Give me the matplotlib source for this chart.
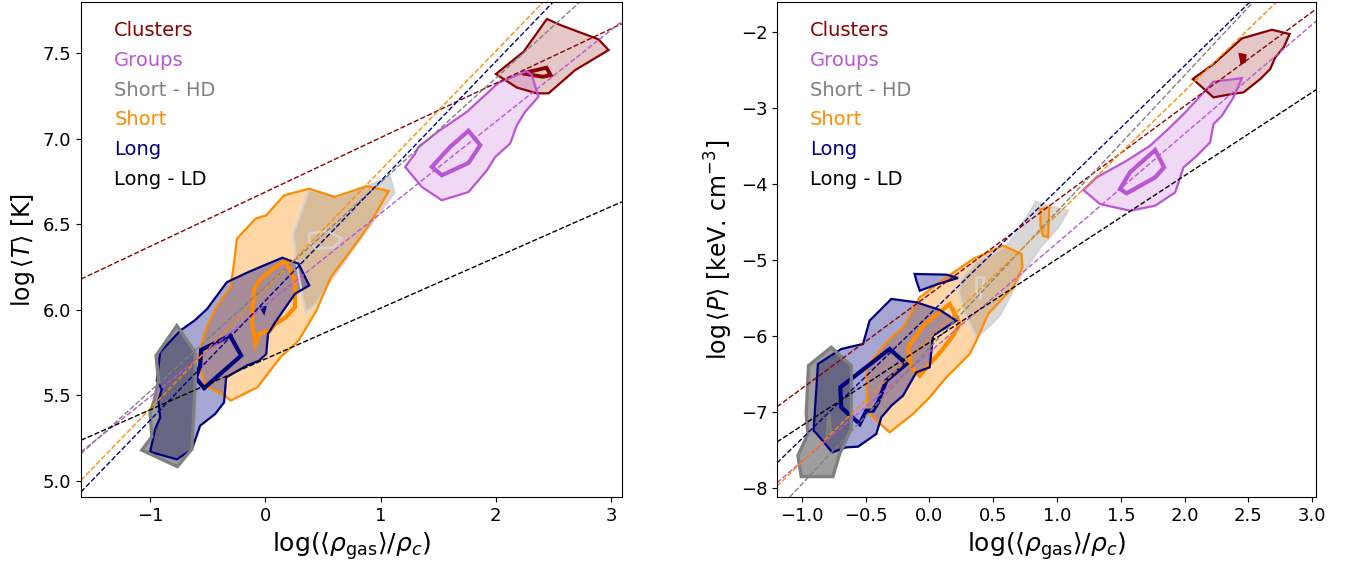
""" Temperature and pressure vs gas density contours for the six samples """

import matplotlib
matplotlib.use('Agg')
import matplotlib.pyplot as plt
from matplotlib.patches import Polygon
from matplotlib.lines import Line2D

labels = ['Clusters', 'Groups', 'Short - HD', 'Short', 'Long', 'Long - LD']
colors = ['darkred', 'mediumorchid', 'grey', 'darkorange', 'navy', 'black']

# fit lines log<T> = a + b*log(rho): (intercept, slope)
fit_T = [(6.689, 0.318), (6.028, 0.536), (6.135, 0.610),
         (6.119, 0.697), (6.054, 0.699), (5.713, 0.297)]
# fit lines log<P> = a + b*log(rho)
fit_P = [(-5.45, 1.240), (-6.213, 1.439), (-6.155, 1.795),
         (-6.031, 1.629), (-5.714, 1.638), (-6.083, 1.098)]

# ---- contours, left panel (log rho, log T)
T_clusters_out = [(2.001, 7.379), (2.241, 7.509), (2.444, 7.701), (2.559, 7.666),
                  (2.892, 7.582), (2.979, 7.519), (2.892, 7.484), (2.689, 7.402),
                  (2.458, 7.266), (2.357, 7.266), (2.183, 7.30)]
T_clusters_in = [(2.23, 7.383), (2.44, 7.416), (2.476, 7.373), (2.41, 7.363)]
T_groups_out = [(1.214, 6.836), (1.30, 6.914), (1.329, 6.953), (1.517, 7.051),
                (1.749, 7.158), (2.024, 7.328), (2.27, 7.396), (2.313, 7.373),
                (2.37, 7.246), (2.255, 7.158), (2.183, 7.08), (2.125, 6.973),
                (1.995, 6.894), (1.923, 6.816), (1.763, 6.689), (1.532, 6.641),
                (1.358, 6.719)]
T_groups_in = [(1.445, 6.836), (1.604, 6.953), (1.763, 7.047), (1.865, 6.963),
               (1.763, 6.859), (1.532, 6.787)]
T_shorthd_out = [(0.381, 6.703), (0.624, 6.66), (0.879, 6.723), (1.081, 6.777),
                 (1.121, 6.686), (0.941, 6.523), (0.692, 6.289), (0.568, 6.172),
                 (0.443, 6.035), (0.35, 5.986), (0.319, 6.094), (0.272, 6.27),
                 (0.241, 6.445)]
T_shorthd_in = [(0.381, 6.445), (0.537, 6.465), (0.661, 6.416), (0.599, 6.367),
                (0.443, 6.357), (0.381, 6.396)]
T_short_out = [(-0.537, 5.586), (-0.583, 5.723), (-0.521, 5.879), (-0.428, 6.016),
               (-0.303, 6.133), (-0.272, 6.27), (-0.247, 6.416), (-0.086, 6.533),
               (0.008, 6.553), (0.163, 6.67), (0.381, 6.709), (0.599, 6.66),
               (0.879, 6.723), (1.072, 6.695), (0.941, 6.543), (0.848, 6.445),
               (0.568, 6.191), (0.443, 5.996), (0.288, 5.82), (0.132, 5.723),
               (-0.07, 5.547), (-0.303, 5.469), (-0.35, 5.498), (-0.49, 5.547)]
T_short_in = [(-0.101, 6.113), (-0.054, 6.172), (0.086, 6.25), (0.179, 6.289),
              (0.257, 6.172), (0.257, 6.016), (0.179, 5.957), (0.086, 5.918),
              (0.039, 5.879), (-0.054, 5.859), (-0.086, 5.801), (-0.117, 5.938)]
T_long_out = [(-1.0, 5.17), (-0.768, 5.126), (-0.638, 5.184), (-0.566, 5.323),
              (-0.436, 5.391), (-0.358, 5.459), (-0.34, 5.605), (-0.163, 5.674),
              (-0.054, 5.703), (0.008, 5.742), (0.023, 5.859), (0.086, 5.928),
              (0.257, 6.094), (0.381, 6.143), (0.288, 6.27), (0.148, 6.305),
              (0.023, 6.27), (-0.148, 6.221), (-0.334, 6.162), (-0.505, 6.006),
              (-0.614, 5.938), (-0.739, 5.879), (-0.913, 5.752), (-0.942, 5.586),
              (-0.899, 5.537), (-0.928, 5.469), (-0.913, 5.371), (-0.957, 5.303)]
T_long_in = [(-0.557, 5.766), (-0.306, 5.85), (-0.21, 5.733), (-0.531, 5.543),
             (-0.603, 5.602), (-0.566, 5.674)]
T_long_in2 = [(-0.025, 6.01), (-0.01, 6.01), (-0.015, 5.998)]
T_longld_out = [(-0.768, 5.908), (-0.609, 5.752), (-0.609, 5.586), (-0.624, 5.352),
                (-0.638, 5.186), (-0.763, 5.084), (-1.072, 5.18), (-0.985, 5.258),
                (-1.0, 5.40), (-0.965, 5.469), (-0.928, 5.586), (-0.948, 5.733)]

# ---- contours, right panel (log rho, log P)
P_clusters_out = [(2.064, -2.614), (2.226, -2.417), (2.449, -2.079), (2.684, -1.965),
                  (2.823, -2.022), (2.776, -2.198), (2.71, -2.33), (2.671, -2.483),
                  (2.593, -2.614), (2.462, -2.79), (2.37, -2.812), (2.226, -2.856)]
P_clusters_in = [(2.44, -2.30), (2.47, -2.31), (2.465, -2.38), (2.45, -2.39)]
P_groups_out = [(1.206, -4.076), (1.311, -3.909), (1.546, -3.69), (1.729, -3.493),
                (1.886, -3.251), (2.017, -3.032), (2.226, -2.65), (2.449, -2.602),
                (2.383, -2.856), (2.292, -3.098), (2.226, -3.207), (2.2, -3.449),
                (2.083, -3.646), (1.991, -3.778), (1.952, -3.976), (1.926, -4.108),
                (1.769, -4.283), (1.572, -4.349), (1.337, -4.261)]
P_groups_in = [(1.494, -4.063), (1.572, -3.843), (1.769, -3.549), (1.839, -3.778),
               (1.769, -3.909), (1.546, -4.12)]
P_shorthd_out = [(0.836, -4.233), (0.929, -4.286), (1.085, -4.352), (1.007, -4.571),
                 (0.867, -4.835), (0.742, -5.143), (0.68, -5.319), (0.556, -5.714),
                 (0.509, -5.802), (0.369, -6.022), (0.307, -5.802), (0.26, -5.626),
                 (0.229, -5.407), (0.26, -5.231), (0.369, -5.011), (0.493, -4.923),
                 (0.618, -4.791), (0.711, -4.571)]
P_shorthd_in = [(0.369, -5.23), (0.431, -5.23), (0.40, -5.50), (0.369, -5.46)]
P_short_out = [(-0.495, -6.411), (-0.39, -6.191), (-0.299, -6.016), (-0.207, -5.884),
               (-0.076, -5.489), (0.133, -5.226), (0.342, -4.984), (0.578, -4.809),
               (0.722, -4.919), (0.729, -5.094), (0.656, -5.358), (0.46, -5.709),
               (0.368, -6.06), (0.316, -6.236), (0.238, -6.367), (0.133, -6.543),
               (0.002, -6.806), (-0.129, -7.026), (-0.312, -7.268), (-0.443, -7.07),
               (-0.487, -6.983)]
P_short_out2 = [(0.87, -4.33), (0.94, -4.30), (0.93, -4.70), (0.89, -4.68), (0.87, -4.55)]
P_short_in = [(-0.168, -6.148), (-0.05, -5.862), (0.159, -5.577), (0.238, -5.84),
              (0.185, -5.994), (0.094, -6.192), (0.002, -6.367), (-0.076, -6.521),
              (-0.142, -6.411)]
P_long_out = [(-0.874, -6.367), (-0.691, -6.17), (-0.521, -6.104), (-0.469, -5.797),
              (-0.299, -5.511), (-0.103, -5.555), (0.081, -5.656), (0.211, -5.797),
              (0.028, -5.995), (0.002, -6.411), (-0.103, -6.477), (-0.207, -6.785),
              (-0.299, -6.917), (-0.377, -7.071), (-0.417, -7.29), (-0.56, -7.457),
              (-0.652, -7.466), (-0.762, -7.532), (-0.882, -7.29), (-0.908, -7.246)]
P_long_out2 = [(-0.116, -5.182), (0.133, -5.191), (0.224, -5.235), (0.068, -5.314),
               (-0.076, -5.402), (-0.103, -5.27)]
P_long_in = [(-0.699, -6.675), (-0.312, -6.17), (-0.181, -6.367), (-0.338, -6.587),
             (-0.403, -6.873), (-0.443, -6.983), (-0.495, -6.983), (-0.547, -7.158),
             (-0.691, -6.939)]
P_longld_out = [(-0.77, -6.148), (-0.613, -6.389), (-0.613, -7.223), (-0.704, -7.553),
                (-0.757, -7.851), (-1.005, -7.851), (-1.031, -7.575), (-0.953, -7.289),
                (-0.966, -7.026), (-0.948, -6.389)]
P_longld_in = [(-0.788, -7.026), (-0.77, -7.289), (-0.804, -7.289)]

T_outer = [[T_clusters_out], [T_groups_out], [T_shorthd_out], [T_short_out],
           [T_long_out], [T_longld_out]]
T_inner = [[T_clusters_in], [T_groups_in], [T_shorthd_in], [T_short_in],
           [T_long_in, T_long_in2], []]
P_outer = [[P_clusters_out], [P_groups_out], [P_shorthd_out],
           [P_short_out, P_short_out2], [P_long_out, P_long_out2], [P_longld_out]]
P_inner = [[P_clusters_in], [P_groups_in], [P_shorthd_in], [P_short_in],
           [P_long_in], [P_longld_in]]

fill_alpha = [0.22, 0.22, 0.3, 0.35, 0.35, 0.38]
line_col = ['darkred', 'mediumorchid', 'lightgrey', 'darkorange', 'navy', 'grey']
outer_lw = [1.6, 1.6, 1.6, 1.6, 1.6, 2.4]
inner_lw = [2.8, 3.0, 1.8, 3.0, 3.0, 2.0]
fill_order = [0, 1, 3, 2, 4, 5]


def draw_panel(ax, outer, inner, fits, xlim, ylim):
    # filled outer contours first, then every outline on top
    for i in fill_order:
        for poly in outer[i]:
            ax.add_patch(Polygon(poly, closed=True, facecolor=colors[i],
                                 alpha=fill_alpha[i], edgecolor='none'))
    for i in range(len(labels)):
        for poly in outer[i]:
            ax.add_patch(Polygon(poly, closed=True, fill=False,
                                 edgecolor=line_col[i], lw=outer_lw[i]))
        for poly in inner[i]:
            ax.add_patch(Polygon(poly, closed=True, fill=False,
                                 edgecolor=line_col[i], lw=inner_lw[i]))
    for i, (a, b) in enumerate(fits):
        ax.axline((0, a), slope=b, color=colors[i], ls='--', lw=1.0)
    ax.set_xlim(xlim)
    ax.set_ylim(ylim)
    ax.tick_params(labelsize=13)
    handles = [Line2D([], [], color=c) for c in colors]
    leg = ax.legend(handles, labels, loc='upper left', frameon=False,
                    handlelength=0, handletextpad=0, fontsize=14,
                    labelspacing=0.55, bbox_to_anchor=(0.04, 0.985),
                    borderaxespad=0.2)
    for t, c in zip(leg.get_texts(), colors):
        t.set_color(c)
    ax.set_xlabel(r'$\log(\langle \rho_{\rm gas} \rangle / \rho_c)$', fontsize=18)


fig = plt.figure(figsize=(13.52, 5.63), dpi=100)
ax1 = fig.add_axes([0.0599, 0.1172, 0.4001, 0.8792])
ax2 = fig.add_axes([0.5747, 0.1172, 0.3987, 0.8792])

draw_panel(ax1, T_outer, T_inner, fit_T, (-1.6, 3.095), (4.906, 7.80))
draw_panel(ax2, P_outer, P_inner, fit_P, (-1.195, 3.03), (-8.12, -1.6))
ax1.set_yticks([5.0, 5.5, 6.0, 6.5, 7.0, 7.5])
ax1.set_ylabel(r'$\log \langle T \rangle$ [K]', fontsize=17)
ax2.set_ylabel(r'$\log \langle P \rangle\ [\rm keV.\,cm^{-3}]$', fontsize=17)

plt.savefig('out.png', dpi=100)
